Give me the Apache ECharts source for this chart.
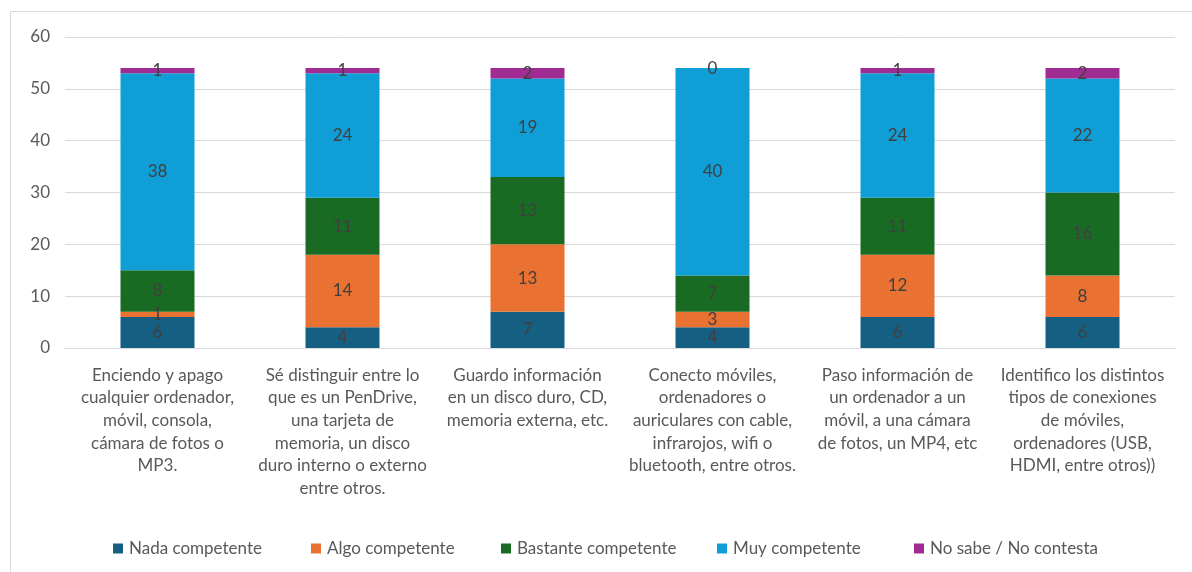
<!DOCTYPE html>
<html>
<head>
<meta charset="utf-8">
<script src="https://cdn.jsdelivr.net/npm/echarts@6/dist/echarts.min.js"></script>
<style>
  html, body { margin: 0; padding: 0; background: #fff; }
  #chart { width: 1192px; height: 572px; }
</style>
</head>
<body>
<div id="chart"></div>
<script>
// Survey items (x-axis), wrapped as they appear under each bar
const categories = [
  "Enciendo y apago\ncualquier ordenador,\nmóvil, consola,\ncámara de fotos o\nMP3.",
  "Sé distinguir entre lo\nque es un PenDrive,\nuna tarjeta de\nmemoria, un disco\nduro interno o externo\nentre otros.",
  "Guardo información\nen un disco duro, CD,\nmemoria externa, etc.",
  "Conecto móviles,\nordenadores o\nauriculares con cable,\ninfrarojos, wifi o\nbluetooth, entre otros.",
  "Paso información de\nun ordenador a un\nmóvil, a una cámara\nde fotos, un MP4, etc",
  "Identifico los distintos\ntipos de conexiones\nde móviles,\nordenadores (USB,\nHDMI, entre otros))"
];

// Responses per competence level
const nada     = [6, 4, 7, 4, 6, 6];
const algo     = [1, 14, 13, 3, 12, 8];
const bastante = [8, 11, 13, 7, 11, 16];
const muy      = [38, 24, 19, 40, 24, 22];
const noSabe   = [1, 1, 2, 0, 1, 2];

const seriesNames = ["Nada competente", "Algo competente", "Bastante competente", "Muy competente", "No sabe / No contesta"];
const seriesData = [nada, algo, bastante, muy, noSabe];
const colors = ["#156082", "#E97132", "#196B24", "#0F9ED5", "#A02B93"];

const yTicks = [0, 10, 20, 30, 40, 50, 60];

const FONT = "Lato, 'Noto Sans', sans-serif";

// one legend block per entry so each sits at its own horizontal spot
const legendLeft = [108, 306, 496, 712, 909];
const legends = seriesNames.map((name, i) => ({
  top: 535,
  left: legendLeft[i],
  itemWidth: 10,
  itemHeight: 10,
  itemGap: 0,
  icon: "rect",
  textStyle: { color: "#595959", fontSize: 17, fontFamily: FONT, padding: [0, 0, 0, 1] },
  data: [name]
}));

const chart = echarts.init(document.getElementById("chart"));
chart.setOption({
  animation: false,
  color: colors,
  textStyle: { fontFamily: FONT },
  graphic: [{
    type: "rect",
    shape: { x: 10.5, y: 11.5, width: 1200, height: 600 },
    style: { fill: "none", stroke: "#d9d9d9", lineWidth: 1 },
    silent: true
  }],
  grid: { left: 65, right: 17, top: 37, bottom: 224, containLabel: false },
  legend: legends,
  xAxis: {
    type: "category",
    data: categories,
    axisLine: { show: true, lineStyle: { color: "#d9d9d9" } },
    axisTick: { show: false },
    axisLabel: {
      interval: 0,
      color: "#595959",
      fontSize: 17,
      lineHeight: 22.6,
      margin: 16,
      align: "center",
      verticalAlign: "top",
      fontFamily: FONT
    }
  },
  yAxis: {
    type: "value",
    min: yTicks[0],
    max: yTicks[yTicks.length - 1],
    interval: 10,
    axisLine: { show: false },
    axisTick: { show: false },
    splitLine: { lineStyle: { color: "#d9d9d9", width: 1 } },
    axisLabel: { color: "#595959", fontSize: 17, margin: 15, fontFamily: FONT }
  },
  series: seriesNames.map((name, i) => ({
    name: name,
    type: "bar",
    stack: "total",
    barWidth: "40%",
    data: seriesData[i],
    itemStyle: { color: colors[i] },
    label: {
      show: true,
      position: "inside",
      color: "#404040",
      fontSize: 17,
      fontFamily: FONT
    }
  }))
});
</script>
</body>
</html>
